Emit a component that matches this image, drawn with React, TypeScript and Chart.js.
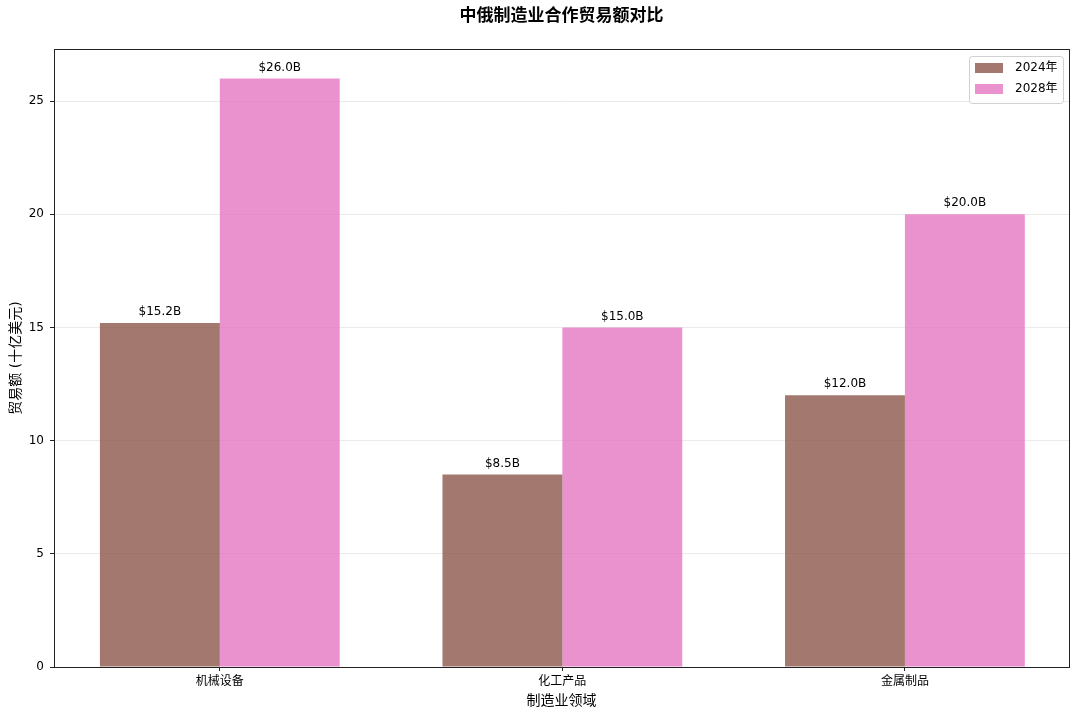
import React, { useEffect, useRef } from "react";
import { Chart, registerables } from "chart.js";

Chart.register(...registerables);

const categories = ["机械设备", "化工产品", "金属制品"];
const seriesNames = ["2024年", "2028年"];
const values2024 = [15.2, 8.5, 12.0];
const values2028 = [26.0, 15.0, 20.0];
const yTicks = [0, 5, 10, 15, 20, 25];

const COLORS = ["rgba(140,86,75,0.8)", "rgba(227,119,194,0.8)"];
const FONT = "'DejaVu Sans', 'Noto Sans CJK SC', sans-serif";

const overlay = {
  id: "overlay",
  afterDatasetsDraw(chart: any) {
    const ctx = chart.ctx;
    const area = chart.chartArea;
    ctx.save();
    // value labels
    ctx.font = `12px ${FONT}`;
    ctx.fillStyle = "#000";
    ctx.textAlign = "center";
    ctx.textBaseline = "bottom";
    chart.data.datasets.forEach((ds: any, di: number) => {
      const meta = chart.getDatasetMeta(di);
      meta.data.forEach((el: any, i: number) => {
        const v = ds.data[i].y;
        ctx.fillText(`$${v.toFixed(1)}B`, el.x, el.y - 5);
      });
    });
    // frame
    ctx.strokeStyle = "#222";
    ctx.lineWidth = 1;
    ctx.strokeRect(
      Math.round(area.left) + 0.5,
      Math.round(area.top) + 0.5,
      Math.round(area.right - area.left),
      Math.round(area.bottom - area.top)
    );
    // title
    ctx.fillStyle = "#000";
    ctx.font = `bold 17px ${FONT}`;
    ctx.textAlign = "center";
    ctx.textBaseline = "middle";
    ctx.fillText("中俄制造业合作贸易额对比", (area.left + area.right) / 2, 17);
    // x title
    ctx.font = `14px ${FONT}`;
    ctx.fillText("制造业领域", (area.left + area.right) / 2, 701);
    // y title
    ctx.save();
    ctx.translate(16, (area.top + area.bottom) / 2);
    ctx.rotate(-Math.PI / 2);
    ctx.fillText("贸易额 (十亿美元)", 0, 0);
    ctx.restore();
    // legend
    const lx = area.right - 100;
    const ly = area.top + 7;
    const lw = 94;
    const lh = 47;
    ctx.fillStyle = "rgba(255,255,255,0.8)";
    ctx.strokeStyle = "#d0d0d0";
    ctx.beginPath();
    if ((ctx as any).roundRect) (ctx as any).roundRect(lx + 0.5, ly + 0.5, lw, lh, 3);
    else ctx.rect(lx + 0.5, ly + 0.5, lw, lh);
    ctx.fill();
    ctx.stroke();
    ctx.font = `12px ${FONT}`;
    ctx.textAlign = "left";
    ctx.textBaseline = "middle";
    seriesNames.forEach((name, i) => {
      const cy = ly + 12 + i * 21;
      ctx.fillStyle = COLORS[i];
      ctx.fillRect(lx + 6, cy - 5, 28, 10);
      ctx.fillStyle = "#000";
      ctx.fillText(name, lx + 46, cy);
    });
    ctx.restore();
  },
};

export default function App() {
  const ref = useRef<HTMLCanvasElement | null>(null);
  useEffect(() => {
    document.body.style.margin = "0";
    const canvas = ref.current;
    if (!canvas) return;
    const mk = (vals: number[]) => vals.map((y, i) => ({ x: i, y }));
    const chart = new Chart(canvas, {
      type: "bar",
      data: {
        datasets: [
          { label: seriesNames[0], data: mk(values2024), backgroundColor: COLORS[0], categoryPercentage: 0.7, barPercentage: 1.0 },
          { label: seriesNames[1], data: mk(values2028), backgroundColor: COLORS[1], categoryPercentage: 0.7, barPercentage: 1.0 },
        ] as any,
      },
      options: {
        animation: false,
        responsive: false,
        maintainAspectRatio: false,
        layout: { padding: { top: 49, right: 11, left: 0, bottom: 0 } },
        plugins: { legend: { display: false }, title: { display: false }, tooltip: { enabled: false } },
        scales: {
          x: {
            type: "linear",
            min: -0.484,
            max: 2.479,
            offset: false,
            afterBuildTicks: (axis: any) => {
              axis.ticks = categories.map((_, i) => ({ value: i }));
            },
            afterFit: (axis: any) => {
              axis.height = 51;
            },
            ticks: {
              callback: (v: any) => categories[v] ?? "",
              color: "#000",
              font: { family: FONT, size: 12 },
              padding: 4,
              maxRotation: 0,
              autoSkip: false,
            },
            grid: { offset: false, drawOnChartArea: false, drawTicks: true, tickLength: 4, tickColor: "#222" },
            border: { display: false },
          },
          y: {
            min: 0,
            max: 27.3,
            afterBuildTicks: (axis: any) => {
              axis.ticks = yTicks.map((v) => ({ value: v }));
            },
            afterFit: (axis: any) => {
              axis.width = 54;
            },
            ticks: {
              color: "#000",
              font: { family: FONT, size: 12 },
              padding: 6,
              callback: (v: any) => String(v),
            },
            grid: { color: "rgba(0,0,0,0.08)", tickColor: "#222", tickLength: 4, lineWidth: 1 },
            border: { display: false },
          },
        },
      } as any,
      plugins: [overlay],
    });
    return () => chart.destroy();
  }, []);
  return (
    <div style={{ width: 1080, height: 718 }}>
      <canvas ref={ref} width={1080} height={718} style={{ width: 1080, height: 718, display: "block" }} />
    </div>
  );
}
